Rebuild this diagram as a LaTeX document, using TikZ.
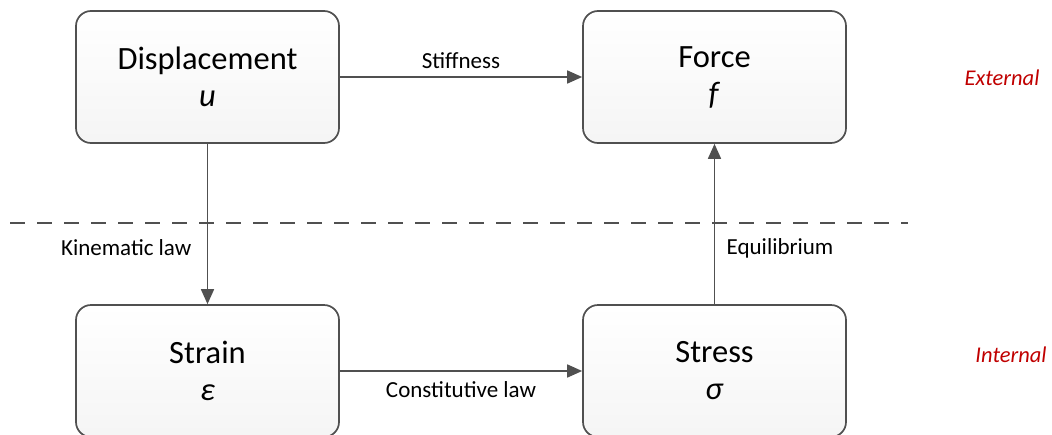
\documentclass[tikz,border=0pt]{standalone}
\usepackage{fontspec}
\setmainfont{Carlito}
\usetikzlibrary{arrows.meta}
\definecolor{linegray}{HTML}{505050}
\definecolor{sidered}{HTML}{C00000}

\tikzset{
  quantity/.style={draw=linegray, line width=1.7pt, rounded corners=15pt,
    top color=white, bottom color=black!4,
    minimum width=263pt, minimum height=132pt, align=center,
    font=\fontsize{32.5}{37}\selectfont},
  link/.style={draw=linegray, line width=1.7pt,
    -{Triangle[length=15pt,width=13pt]}},
  lawlabel/.style={font=\fontsize{23}{26}\selectfont},
  sidelabel/.style={text=sidered, font=\fontsize{22.5}{26}\selectfont\itshape}
}

\begin{document}
\begin{tikzpicture}[x=1pt,y=-1pt]
  \useasboundingbox (0,0) rectangle (1052,434);

  % boundary between external and internal quantities
  \coordinate (cutL) at (10,223);
  \coordinate (cutR) at (908,223);
  \draw[linegray, line width=1.8pt, dash pattern=on 15pt off 12pt] (cutL) -- (cutR);

  \node[quantity] (disp) at (207.5,77) {Displacement\\\textit{u}};
  \node[quantity] (force) at (714.5,77) {Force\\\textit{f}};
  \node[quantity] (strain) at (207.5,371) {Strain\\\textit{ε}};
  \node[quantity] (stress) at (714.5,371) {Stress\\\textit{σ}};

  \draw[link] (disp) -- node[lawlabel, above=4pt] (stiff) {Stiffness} (force);
  \draw[link] (disp) -- node[lawlabel, pos=0.65, left=12pt] (kin) {Kinematic law} (strain);
  \draw[link] (strain) -- node[lawlabel, below=6pt] (const) {Constitutive law} (stress);
  \draw[link] (stress) -- node[lawlabel, pos=0.35, right=8pt] (equi) {Equilibrium} (force);

  \node[sidelabel] (ext) at (1002,78) {External};
  \node[sidelabel] (int) at (1011,355) {Internal};
\end{tikzpicture}
\end{document}
